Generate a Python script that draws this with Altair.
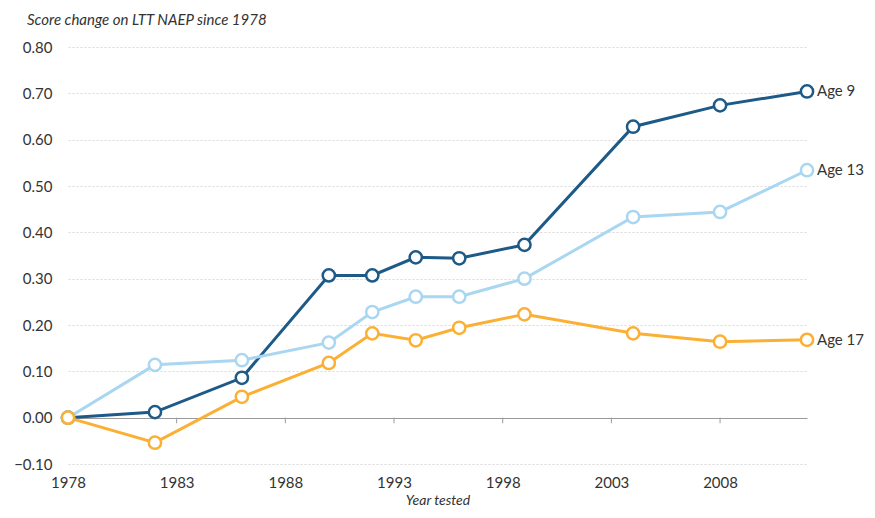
import altair as alt
import pandas as pd

years = [1978, 1982, 1986, 1990, 1992, 1994, 1996, 1999, 2004, 2008, 2012]
age9 = [0.0, 0.012, 0.086, 0.307, 0.307, 0.346, 0.344, 0.373, 0.628, 0.674, 0.704]
age13 = [0.0, 0.114, 0.124, 0.162, 0.228, 0.261, 0.261, 0.300, 0.433, 0.444, 0.534]
age17 = [0.0, -0.054, 0.045, 0.118, 0.182, 0.167, 0.194, 0.223, 0.182, 0.164, 0.168]
series = ["Age 9", "Age 13", "Age 17"]
colors = ["#1d5a87", "#a9d6f1", "#fbb034"]
x_ticks = [1978, 1983, 1988, 1993, 1998, 2003, 2008]
y_ticks = [-0.1, 0.0, 0.1, 0.2, 0.3, 0.4, 0.5, 0.6, 0.7, 0.8]

rows = []
for name, vals in zip(series, [age9, age13, age17]):
    for y, v in zip(years, vals):
        rows.append({"year": y, "value": v, "series": name})
df = pd.DataFrame(rows)
last = df[df["year"] == years[-1]]
ticks_df = pd.DataFrame({"year": x_ticks[1:], "y0": 0.0, "y1": -0.012})

FONT = "Lato"
xscale = alt.Scale(domain=[1978, 2012], nice=False, zero=False)
yscale = alt.Scale(domain=[-0.1, 0.8], nice=False)
cscale = alt.Scale(domain=series, range=colors)

x_enc = alt.X("year:Q", scale=xscale,
              axis=alt.Axis(values=x_ticks, format="d", title="Year tested",
                            titleFont=FONT, titleFontStyle="italic", titleFontWeight="normal",
                            titleFontSize=14, titleColor="#333", titlePadding=3,
                            labelFont=FONT, labelFontSize=15, labelColor="#333",
                            labelPadding=11, labelFlush=False,
                            domain=False, ticks=False, grid=False))
y_enc = alt.Y("value:Q", scale=yscale,
              axis=alt.Axis(values=y_ticks, format=".2f", title=None,
                            labelFont=FONT, labelFontSize=15, labelColor="#333",
                            labelPadding=16, domain=False, ticks=False, grid=True,
                            gridColor={"condition": {"test": "datum.value === 0", "value": "#9a9a9a"}, "value": "#d9d9d9"},
                            gridDash={"condition": {"test": "datum.value === 0", "value": []}, "value": [2, 2]},
                            gridWidth=1))

base = alt.Chart(df)
lines = base.mark_line(strokeWidth=3).encode(
    x=x_enc, y=y_enc,
    color=alt.Color("series:N", scale=cscale, legend=None),
    detail="series:N")
points = base.mark_point(filled=True, fill="white", size=150, strokeWidth=2.5, opacity=1).encode(
    x="year:Q", y="value:Q",
    stroke=alt.Stroke("series:N", scale=cscale, legend=None))
ticks = alt.Chart(ticks_df).mark_rule(color="#9a9a9a", strokeWidth=1).encode(
    x="year:Q", y="y0:Q", y2="y1:Q")
labels = alt.Chart(last).mark_text(align="left", baseline="middle", dx=10, font=FONT,
                                  fontSize=15, color="#333").encode(
    x="year:Q", y="value:Q", text="series:N")

chart = alt.layer(ticks, lines, points, labels).properties(
    width=739, height=417,
    background="white",
    autosize=alt.AutoSizeParams(type="none"),
    padding={"left": 60, "top": 39, "right": 60, "bottom": 46},
    title=alt.TitleParams(text="Score change on LTT NAEP since 1978", anchor="start",
                          frame="group", dx=-41, offset=12, font=FONT, fontSize=15,
                          fontStyle="italic", fontWeight="normal", color="#333"),
).configure_view(strokeWidth=0, stroke="transparent")

chart.save("out.html", embed_options={"renderer": "svg", "actions": False})
